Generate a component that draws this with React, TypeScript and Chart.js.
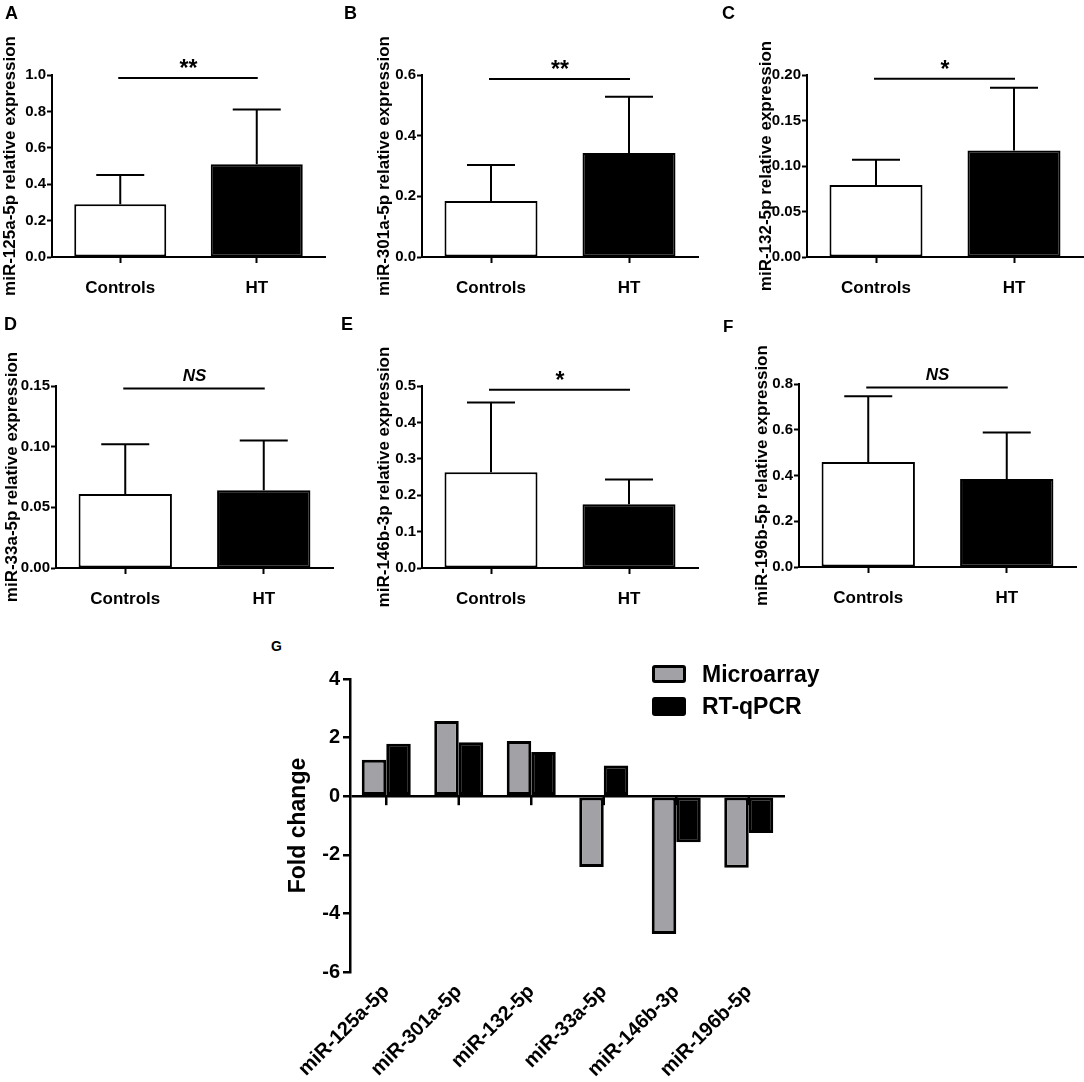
import { useEffect, useRef } from "react";
import { Chart, registerables } from "chart.js";

Chart.register(...registerables);

const FONT = "'Liberation Sans', Arial, Helvetica, sans-serif";

// panels A-F: mean and upper SD per group
const groups = ["Controls", "HT"];

const aMeans = [0.29, 0.51];
const aErrors = [0.16, 0.3];
const aTicks = ["0.0", "0.2", "0.4", "0.6", "0.8", "1.0"];

const bMeans = [0.185, 0.343];
const bErrors = [0.118, 0.185];
const bTicks = ["0.0", "0.2", "0.4", "0.6"];

const cMeans = [0.079, 0.117];
const cErrors = [0.028, 0.069];
const cTicks = ["0.00", "0.05", "0.10", "0.15", "0.20"];

const dMeans = [0.061, 0.064];
const dErrors = [0.041, 0.041];
const dTicks = ["0.00", "0.05", "0.10", "0.15"];

const eMeans = [0.263, 0.175];
const eErrors = [0.192, 0.068];
const eTicks = ["0.0", "0.1", "0.2", "0.3", "0.4", "0.5"];

const fMeans = [0.459, 0.385];
const fErrors = [0.287, 0.203];
const fTicks = ["0.0", "0.2", "0.4", "0.6", "0.8"];

// panel G: fold change
const mirnas = ["miR-125a-5p", "miR-301a-5p", "miR-132-5p", "miR-33a-5p", "miR-146b-3p", "miR-196b-5p"];
const seriesNames = ["Microarray", "RT-qPCR"];
const microarray = [1.24, 2.57, 1.88, -2.42, -4.7, -2.44];
const rtqpcr = [1.79, 1.84, 1.51, 1.05, -1.57, -1.26];
const gTicks = ["-6", "-4", "-2", "0", "2", "4"];

const GRAY = "#a2a2a6";

type PanelProps = {
  left: number;
  top: number;
  width: number;
  height: number;
  padTop: number;
  padRight: number;
  yWidth: number;
  xHeight: number;
  title: string;
  means: number[];
  errors: number[];
  ticks: string[];
  sigValue: number;
  sigText: string;
};

function Panel(p: PanelProps) {
  const canvasRef = useRef<HTMLCanvasElement>(null);

  useEffect(() => {
    if (!canvasRef.current) return;
    const tickValues = p.ticks.map((t) => parseFloat(t));

    const errorBars = {
      id: "errorBars",
      afterDatasetsDraw(chart: any) {
        const { ctx, scales } = chart;
        ctx.save();
        ctx.strokeStyle = "#000";
        ctx.lineWidth = 2;
        p.means.forEach((m, i) => {
          const x = scales.x.getPixelForValue(i);
          const y0 = scales.y.getPixelForValue(m);
          const y1 = scales.y.getPixelForValue(m + p.errors[i]);
          ctx.beginPath();
          ctx.moveTo(x, y0);
          ctx.lineTo(x, y1);
          ctx.moveTo(x - 24, y1);
          ctx.lineTo(x + 24, y1);
          ctx.stroke();
        });
        // significance bracket
        const sy = scales.y.getPixelForValue(p.sigValue);
        const x0 = scales.x.getPixelForValue(0);
        const x1 = scales.x.getPixelForValue(1);
        ctx.beginPath();
        ctx.moveTo(x0 - 2, sy);
        ctx.lineTo(x1 + 1, sy);
        ctx.stroke();
        ctx.fillStyle = "#000";
        ctx.textAlign = "center";
        ctx.textBaseline = "alphabetic";
        if (p.sigText === "NS") {
          ctx.font = `italic bold 17px ${FONT}`;
          ctx.fillText(p.sigText, (x0 + x1) / 2, sy - 7);
        } else {
          ctx.font = `bold 23px ${FONT}`;
          ctx.fillText(p.sigText, (x0 + x1) / 2, sy - 2);
        }
        ctx.restore();
      },
    };

    const chart = new Chart(canvasRef.current, {
      type: "bar",
      data: {
        labels: groups,
        datasets: [
          {
            data: p.means,
            backgroundColor: ["#ffffff", "#000000"],
            borderColor: "#000",
            borderWidth: 2,
            borderSkipped: false,
            barPercentage: 0.674,
            categoryPercentage: 1,
          },
        ],
      },
      options: {
        animation: false,
        responsive: false,
        maintainAspectRatio: false,
        layout: { padding: { top: p.padTop, right: p.padRight, left: 0, bottom: 0 } },
        plugins: { legend: { display: false }, tooltip: { enabled: false } },
        scales: {
          x: {
            grid: {
              display: true,
              offset: false,
              drawOnChartArea: false,
              tickLength: 6,
              tickColor: "#000",
              tickWidth: 2,
            },
            border: { display: true, color: "#000", width: 2 },
            ticks: {
              color: "#000",
              font: { family: FONT, size: 17, weight: "bold" },
              padding: 15,
            },
            afterFit: (s: any) => {
              s.height = p.xHeight;
            },
          },
          y: {
            min: tickValues[0],
            max: tickValues[tickValues.length - 1],
            afterBuildTicks: (s: any) => {
              s.ticks = tickValues.map((v) => ({ value: v }));
            },
            grid: {
              display: true,
              drawOnChartArea: false,
              tickLength: 5,
              tickColor: "#000",
              tickWidth: 2,
            },
            border: { display: true, color: "#000", width: 2 },
            ticks: {
              color: "#000",
              font: { family: FONT, size: 15, weight: "bold" },
              padding: 1,
              callback: (_v: any, i: number) => p.ticks[i],
            },
            title: {
              display: true,
              text: p.title,
              color: "#000",
              font: { family: FONT, size: 17, weight: "bold" },
              padding: 0,
            },
            afterFit: (s: any) => {
              s.width = p.yWidth;
            },
          },
        },
      },
      plugins: [errorBars],
    });

    return () => {
      chart.destroy();
    };
  }, []);

  return (
    <div style={{ position: "absolute", left: p.left, top: p.top, width: p.width, height: p.height }}>
      <canvas ref={canvasRef} width={p.width} height={p.height} style={{ display: "block" }}></canvas>
    </div>
  );
}

function FoldChange() {
  const canvasRef = useRef<HTMLCanvasElement>(null);

  useEffect(() => {
    if (!canvasRef.current) return;
    const tickValues = gTicks.map((t) => parseFloat(t));

    // little ticks on the zero line, under the bars
    const zeroTicks = {
      id: "zeroTicks",
      beforeDatasetsDraw(chart: any) {
        const { ctx, scales } = chart;
        const y0 = scales.y.getPixelForValue(0);
        ctx.save();
        ctx.strokeStyle = "#000";
        ctx.lineWidth = 2.5;
        mirnas.forEach((_m, i) => {
          const x = scales.x.getPixelForValue(i);
          ctx.beginPath();
          ctx.moveTo(x, y0);
          ctx.lineTo(x, y0 + 9);
          ctx.stroke();
        });
        ctx.restore();
      },
    };

    const chart = new Chart(canvasRef.current, {
      type: "bar",
      data: {
        labels: mirnas,
        datasets: [
          {
            label: seriesNames[0],
            data: microarray,
            backgroundColor: GRAY,
            borderColor: "#000",
            borderWidth: 3,
            borderSkipped: false,
            barPercentage: 1,
            categoryPercentage: 0.676,
          },
          {
            label: seriesNames[1],
            data: rtqpcr,
            backgroundColor: "#000",
            borderColor: "#000",
            borderWidth: 3,
            borderSkipped: false,
            barPercentage: 1,
            categoryPercentage: 0.676,
          },
        ],
      },
      options: {
        animation: false,
        responsive: false,
        maintainAspectRatio: false,
        layout: { padding: { top: 39, right: 10, left: 0, bottom: 0 } },
        plugins: { legend: { display: false }, tooltip: { enabled: false } },
        scales: {
          x: {
            grid: { display: false },
            border: { display: false },
            ticks: {
              color: "#000",
              font: { family: FONT, size: 20, weight: "bold" },
              minRotation: 45,
              maxRotation: 45,
              autoSkip: false,
              padding: 0,
            },
            afterFit: (s: any) => {
              s.height = 110;
            },
          },
          y: {
            min: tickValues[0],
            max: tickValues[tickValues.length - 1],
            afterBuildTicks: (s: any) => {
              s.ticks = tickValues.map((v) => ({ value: v }));
            },
            grid: {
              display: true,
              drawOnChartArea: true,
              color: (c: any) => (c.tick && c.tick.value === 0 ? "#000" : "rgba(0,0,0,0)"),
              lineWidth: 2.5,
              tickLength: 7,
              tickColor: "#000",
              tickWidth: 2.5,
            },
            border: { display: true, color: "#000", width: 2.5 },
            ticks: {
              color: "#000",
              font: { family: FONT, size: 20, weight: "bold" },
              padding: 3,
              callback: (_v: any, i: number) => gTicks[i],
            },
            title: {
              display: true,
              text: "Fold change",
              color: "#000",
              font: { family: FONT, size: 23, weight: "bold" },
              padding: 0,
            },
            afterFit: (s: any) => {
              s.width = 65;
            },
          },
        },
      },
      plugins: [zeroTicks],
    });

    return () => {
      chart.destroy();
    };
  }, []);

  return (
    <div style={{ position: "absolute", left: 285, top: 640, width: 510, height: 442 }}>
      <canvas ref={canvasRef} width={510} height={442} style={{ display: "block" }}></canvas>
    </div>
  );
}

const letterStyle = (left: number, top: number, size = 18): React.CSSProperties => ({
  position: "absolute",
  left,
  top,
  fontSize: size,
  lineHeight: `${size}px`,
  fontWeight: "bold",
});

export default function App() {
  return (
    <div
      style={{
        position: "absolute",
        left: 0,
        top: 0,
        width: 1084,
        height: 1082,
        background: "#fff",
        fontFamily: FONT,
        color: "#000",
        overflow: "hidden",
      }}
    >
      <Panel left={0} top={0} width={335} height={310} padTop={75} padRight={10} yWidth={52} xHeight={53}
        title="miR-125a-5p relative expression" means={aMeans} errors={aErrors} ticks={aTicks} sigValue={0.984} sigText="**" />
      <Panel left={374} top={0} width={334} height={310} padTop={75} padRight={10} yWidth={48} xHeight={53}
        title="miR-301a-5p relative expression" means={bMeans} errors={bErrors} ticks={bTicks} sigValue={0.587} sigText="**" />
      <Panel left={756} top={0} width={328} height={310} padTop={75} padRight={1} yWidth={51} xHeight={53}
        title="miR-132-5p relative expression" means={cMeans} errors={cErrors} ticks={cTicks} sigValue={0.196} sigText="*" />
      <Panel left={2} top={310} width={341} height={310} padTop={76} padRight={10} yWidth={54} xHeight={52}
        title="miR-33a-5p relative expression" means={dMeans} errors={dErrors} ticks={dTicks} sigValue={0.148} sigText="NS" />
      <Panel left={374} top={310} width={334} height={310} padTop={76} padRight={10} yWidth={48} xHeight={52}
        title="miR-146b-3p relative expression" means={eMeans} errors={eErrors} ticks={eTicks} sigValue={0.49} sigText="*" />
      <Panel left={752} top={310} width={332} height={310} padTop={74} padRight={8} yWidth={47} xHeight={53}
        title="miR-196b-5p relative expression" means={fMeans} errors={fErrors} ticks={fTicks} sigValue={0.785} sigText="NS" />
      <FoldChange />

      <div style={letterStyle(5, 4)}>A</div>
      <div style={letterStyle(344, 4)}>B</div>
      <div style={letterStyle(722, 4)}>C</div>
      <div style={letterStyle(4, 315)}>D</div>
      <div style={letterStyle(341, 315)}>E</div>
      <div style={letterStyle(723, 318, 17)}>F</div>
      <div style={letterStyle(271, 639, 14)}>G</div>

      <div
        style={{
          position: "absolute",
          left: 652,
          top: 665,
          width: 34,
          height: 18,
          boxSizing: "border-box",
          background: GRAY,
          border: "3px solid #000",
          borderRadius: 3,
        }}
      />
      <div style={{ position: "absolute", left: 702, top: 663, fontSize: 23, lineHeight: "23px", fontWeight: "bold" }}>
        {seriesNames[0]}
      </div>
      <div
        style={{
          position: "absolute",
          left: 652,
          top: 697,
          width: 34,
          height: 19,
          boxSizing: "border-box",
          background: "#000",
          border: "3px solid #000",
          borderRadius: 3,
        }}
      />
      <div style={{ position: "absolute", left: 702, top: 695, fontSize: 23, lineHeight: "23px", fontWeight: "bold" }}>
        {seriesNames[1]}
      </div>
    </div>
  );
}
